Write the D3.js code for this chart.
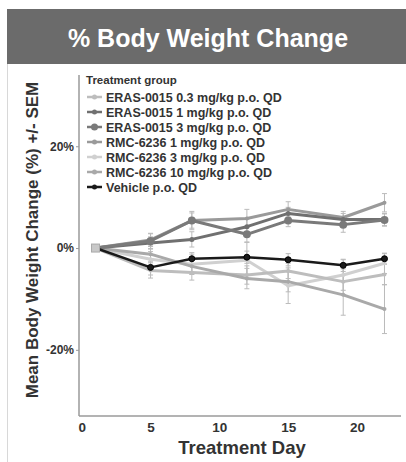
<!DOCTYPE html>
<html><head><meta charset="utf-8">
<script src="https://cdn.jsdelivr.net/npm/d3@7"></script>
<style>body{margin:0;background:#fff}svg{display:block}text{font-family:"Liberation Sans",Arial,Helvetica,sans-serif}</style>
</head><body>
<script>
const days = [1, 5, 8, 12, 15, 19, 22];
const seriesNames = ["ERAS-0015 0.3 mg/kg p.o. QD","ERAS-0015 1 mg/kg p.o. QD","ERAS-0015 3 mg/kg p.o. QD","RMC-6236 1 mg/kg p.o. QD","RMC-6236 3 mg/kg p.o. QD","RMC-6236 10 mg/kg p.o. QD","Vehicle p.o. QD"];
const eras03 = [0, -4.4, -4.8, -5.3, -4.5, -6.6, -5.2];
const eras1 = [0, 1.0, 1.7, 4.2, 6.8, 5.6, 5.6];
const eras3 = [0, 1.4, 5.4, 2.7, 5.4, 4.6, 5.5];
const rmc1 = [0, 1.6, 5.4, 5.8, 7.6, 6.0, 8.9];
const rmc3 = [0, -2.2, -3.2, -2.4, -7.4, -5.3, -3.0];
const rmc10 = [0, -1.2, -3.6, -6.0, -6.6, -9.2, -12.0];
const vehicle = [0, -3.8, -2.1, -1.8, -2.3, -3.4, -2.1];
const semE03 = [0, 1.5, 1.5, 1.8, 1.5, 2.5, 2.0];
const semE1 = [0, 1.2, 1.5, 1.5, 1.2, 1.2, 1.2];
const semE3 = [0, 1.5, 1.8, 1.5, 1.2, 1.5, 1.2];
const semR1 = [0, 1.2, 1.5, 1.8, 1.5, 1.2, 1.8];
const semR3 = [0, 1.5, 2.0, 3.5, 3.5, 3.0, 2.0];
const semR10 = [0, 1.5, 1.5, 2.0, 2.0, 4.0, 4.8];
const semV = [0, 1.5, 1.2, 1.2, 1.2, 1.2, 1.0];
const xTicks = [0, 5, 10, 15, 20];
const yTicks = [20, 0, -20];

const values = [eras03, eras1, eras3, rmc1, rmc3, rmc10, vehicle];
const sems = [semE03, semE1, semE3, semR1, semR3, semR10, semV];
const colors = ["#bdbdbd", "#707070", "#7a7a7a", "#9a9a9a", "#d0d0d0", "#a9a9a9", "#1a1a1a"];
const markerR = [2, 2.5, 4, 2, 2, 2, 3];

const W = 406, H = 462;
const svg = d3.select("body").append("svg").attr("width", W).attr("height", H);

// frame & title bar
svg.append("line").attr("x1", 7.5).attr("x2", 7.5).attr("y1", 9).attr("y2", H).attr("stroke", "#d8d8d8").attr("stroke-width", 1);
svg.append("rect").attr("x", 7).attr("y", 9).attr("width", W - 7).attr("height", 55).attr("fill", "#6b6b6b");
svg.append("text").attr("x", 208).attr("y", 47).attr("text-anchor", "middle")
  .attr("fill", "#fff").attr("font-size", 25).attr("font-weight", "bold").text("% Body Weight Change");

const x = d3.scaleLinear().domain([-0.2, 23.2]).range([79, 401]);
const y = d3.scaleLinear().domain([-33, 34]).range([416, 75]);

// axes
const axisColor = "#9a9a9a";
svg.append("line").attr("x1", 79).attr("x2", 79).attr("y1", 75).attr("y2", 416).attr("stroke", axisColor).attr("stroke-width", 1.5);
svg.append("line").attr("x1", 79).attr("x2", 401).attr("y1", 416).attr("y2", 416).attr("stroke", axisColor).attr("stroke-width", 1.5);

const yAxis = d3.axisLeft(y).tickValues(yTicks).tickFormat(d => d + "%").tickSize(3).tickPadding(2);
const gy = svg.append("g").attr("transform", "translate(79,0)").call(yAxis);
gy.select(".domain").remove();
gy.selectAll("line").attr("stroke", axisColor);
gy.selectAll("text").attr("font-size", 12).attr("font-weight", "bold").attr("fill", "#333").style("font-family", "'Liberation Sans',Arial,sans-serif");

const xAxis = d3.axisBottom(x).tickValues(xTicks).tickFormat(d3.format("d")).tickSize(0).tickPadding(6);
const gx = svg.append("g").attr("transform", "translate(0,416)").call(xAxis);
gx.select(".domain").remove();
gx.selectAll("text").attr("font-size", 13.5).attr("font-weight", "bold").attr("fill", "#333").style("font-family", "'Liberation Sans',Arial,sans-serif");

svg.append("text").attr("x", 242).attr("y", 454).attr("text-anchor", "middle").attr("font-size", 18.5).attr("font-weight", "bold").attr("fill", "#333").text("Treatment Day");
svg.append("text").attr("transform", "translate(38,240) rotate(-90)").attr("text-anchor", "middle").attr("font-size", 17).attr("font-weight", "bold").attr("fill", "#333").text("Mean Body Weight Change (%) +/- SEM");

// error bars
const line = d3.line().x((d, i) => x(days[i])).y(d => y(d));
values.forEach((vals, s) => {
  const g = svg.append("g");
  vals.forEach((v, i) => {
    const e = sems[s][i];
    if (e <= 0) return;
    const cx = x(days[i]);
    g.append("line").attr("x1", cx).attr("x2", cx).attr("y1", y(v - e)).attr("y2", y(v + e)).attr("stroke", "#bbb").attr("stroke-width", 1);
    [v - e, v + e].forEach(t => g.append("line").attr("x1", cx - 2.5).attr("x2", cx + 2.5).attr("y1", y(t)).attr("y2", y(t)).attr("stroke", "#bbb").attr("stroke-width", 1));
  });
});
// lines
const order = [4, 0, 5, 3, 1, 2, 6];
order.forEach(s => {
  svg.append("path").datum(values[s]).attr("d", line).attr("fill", "none")
    .attr("stroke", colors[s]).attr("stroke-width", s === 6 ? 2.5 : 3).attr("stroke-linejoin", "round");
  svg.append("g").selectAll("circle").data(values[s]).join("circle")
    .attr("cx", (d, i) => x(days[i])).attr("cy", d => y(d)).attr("r", markerR[s]).attr("fill", colors[s])
    .attr("stroke", s === 6 ? "#000" : "none");
});
// start marker
svg.append("rect").attr("x", x(days[0]) - 4).attr("y", y(0) - 4).attr("width", 8).attr("height", 8).attr("fill", "#c8c8c8").attr("stroke", "#aaa");

// legend
svg.append("text").attr("x", 86).attr("y", 84).attr("font-size", 11.5).attr("font-weight", "bold").attr("fill", "#333").text("Treatment group");
seriesNames.forEach((n, i) => {
  const ly = 97 + i * 15;
  svg.append("line").attr("x1", 87).attr("x2", 102).attr("y1", ly).attr("y2", ly).attr("stroke", colors[i]).attr("stroke-width", 2.5);
  svg.append("circle").attr("cx", 94.5).attr("cy", ly).attr("r", i === 2 ? 3.5 : 2.5).attr("fill", colors[i]);
  svg.append("text").attr("x", 106).attr("y", ly + 4.5).attr("font-size", 12.5).attr("font-weight", "bold").attr("fill", "#333").text(n);
});
</script>
</body></html>
